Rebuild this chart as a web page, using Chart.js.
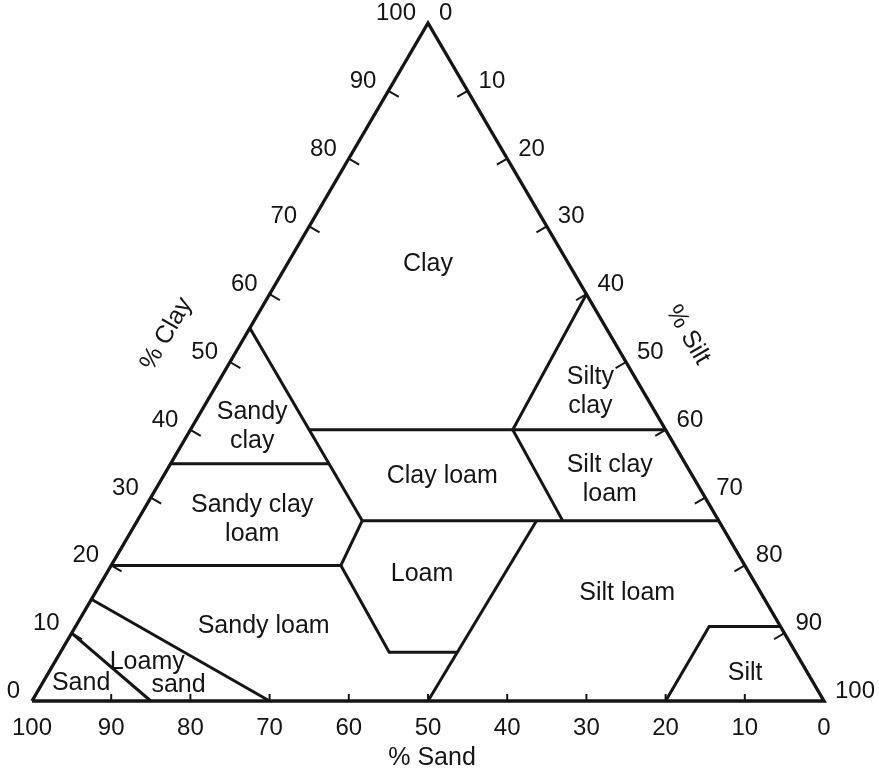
<!DOCTYPE html>
<html>
<head>
<meta charset="utf-8">
<title>Soil texture triangle</title>
<script src="https://cdn.jsdelivr.net/npm/chart.js@4.4.1/dist/chart.umd.min.js"></script>
<style>
  html, body { margin: 0; padding: 0; background: #fff; }
  #wrap { width: 879px; height: 770px; }
</style>
</head>
<body>
<div id="wrap"><canvas id="soil" width="879" height="770"></canvas></div>
<script>
// every point is [sand %, clay %]; silt is what is left
const outline = [[100, 0], [0, 0], [0, 100], [100, 0]];
const sandLine = [[90, 10], [85, 0]];
const loamySandLine = [[85, 15], [70, 0]];
const sandyLoamLine = [[80, 20], [51, 20], [51.3, 7.2], [42.7, 7.2]];
const loamLeftLine = [[51, 20], [45, 26.6]];
const clayLoamBase = [[45, 26.6], [0, 26.6]];
const sand45Line = [[45, 55], [45, 26.6]];
const sandyClayBase = [[65, 35], [45, 35]];
const clayLoamTop = [[45, 40], [0, 40]];
const siltyClayLine = [[0, 60], [19.3, 40], [19.7, 26.6]];
const siltLoamLine = [[50, 0], [23, 26.6]];
const siltLine = [[20, 0], [9, 11], [0, 11]];

const tickValues = [10, 20, 30, 40, 50, 60, 70, 80, 90];
const tickLabels = [0, 10, 20, 30, 40, 50, 60, 70, 80, 90, 100];

const regionNames = [
  ['Clay'], ['Sandy', 'clay'], ['Sandy clay', 'loam'], ['Clay loam'],
  ['Silty', 'clay'], ['Silt clay', 'loam'], ['Loam'], ['Silt loam'],
  ['Sandy loam'], ['Loamy'], ['sand'], ['Sand'], ['Silt']
];
const regionSand = [17.8, 52.0, 58.8, 31.6, 6.7, 10.7, 41.4, 16.9, 65.2, 82.6, 80.3, 92.5, 7.9];
const regionClay = [64.4, 40.4, 26.8, 33.2, 45.6, 32.7, 18.7, 15.9, 11.1, 5.7, 2.4, 2.6, 4.1];

const ink = '#151515';
const font = '"Liberation Sans", Arial, Helvetica, sans-serif';

// sand at the left corner, silt at the right corner, clay at the top
function toXY(sand, clay) {
  return { x: 100 - sand - clay / 2, y: clay };
}

function lineSet(points, width) {
  return {
    data: points.map(p => toXY(p[0], p[1])),
    showLine: true,
    borderColor: ink,
    borderWidth: width,
    pointRadius: 0,
    fill: false,
    clip: false,
    borderJoinStyle: 'miter'
  };
}

const textPlugin = {
  id: 'soilText',
  afterDatasetsDraw(chart) {
    const ctx = chart.ctx;
    const xs = chart.scales.x;
    const ys = chart.scales.y;
    const pt = (sand, clay) => {
      const p = toXY(sand, clay);
      return [xs.getPixelForValue(p.x), ys.getPixelForValue(p.y)];
    };
    const seg = (x1, y1, x2, y2) => {
      ctx.beginPath();
      ctx.moveTo(x1, y1);
      ctx.lineTo(x2, y2);
      ctx.stroke();
    };

    // unit vectors of the two sloping sides
    const a = pt(100, 0), b = pt(0, 0), c = pt(0, 100);
    let len = Math.hypot(c[0] - a[0], c[1] - a[1]);
    const leftDir = [(c[0] - a[0]) / len, (c[1] - a[1]) / len];
    len = Math.hypot(b[0] - c[0], b[1] - c[1]);
    const rightDir = [(b[0] - c[0]) / len, (b[1] - c[1]) / len];
    const leftIn = [-leftDir[1], leftDir[0]];
    const rightIn = [-rightDir[1], rightDir[0]];

    ctx.save();
    ctx.strokeStyle = ink;
    ctx.fillStyle = ink;
    ctx.lineWidth = 2;

    tickValues.forEach(v => {
      let [x, y] = pt(v, 0);
      seg(x, y, x, y - 7);
      [x, y] = pt(100 - v, v);
      seg(x, y, x + leftIn[0] * 12, y + leftIn[1] * 12);
      [x, y] = pt(0, 100 - v);
      seg(x, y, x + rightIn[0] * 12, y + rightIn[1] * 12);
    });

    ctx.font = '24px ' + font;
    ctx.textBaseline = 'alphabetic';
    tickLabels.forEach(v => {
      let [x, y] = pt(v, 0);
      ctx.textAlign = 'center';
      ctx.fillText(String(v), x, y + 34);
      [x, y] = pt(100 - v, v);
      ctx.textAlign = 'right';
      ctx.fillText(String(v), x - 12, y - 3);
      [x, y] = pt(0, 100 - v);
      ctx.textAlign = 'left';
      ctx.fillText(String(v), x + 11, y - 3);
    });

    // axis titles
    ctx.font = '25px ' + font;
    ctx.textAlign = 'center';
    ctx.textBaseline = 'middle';
    let [x, y] = pt(50, 0);
    ctx.fillText('% Sand', x + 4, y + 57);

    [x, y] = pt(51, 49);
    ctx.save();
    ctx.translate(x - leftIn[0] * 69, y - leftIn[1] * 69);
    ctx.rotate(Math.atan2(leftDir[1], leftDir[0]));
    ctx.fillText('% Clay', 0, 0);
    ctx.restore();

    [x, y] = pt(0, 49);
    ctx.save();
    ctx.translate(x - rightIn[0] * 67, y - rightIn[1] * 67);
    ctx.rotate(Math.atan2(rightDir[1], rightDir[0]));
    ctx.fillText('% Silt', 0, 0);
    ctx.restore();

    // texture class names
    regionNames.forEach((lines, i) => {
      const [cx, cy] = pt(regionSand[i], regionClay[i]);
      const top = cy - (lines.length - 1) * 29 / 2;
      lines.forEach((t, j) => ctx.fillText(t, cx, top + j * 29));
    });
    ctx.restore();
  }
};

const boundaries = [
  sandLine, loamySandLine, sandyLoamLine, loamLeftLine, clayLoamBase,
  sand45Line, sandyClayBase, clayLoamTop, siltyClayLine, siltLoamLine, siltLine
];

new Chart(document.getElementById('soil'), {
  type: 'scatter',
  data: {
    datasets: [lineSet(outline, 3.4)].concat(boundaries.map(l => lineSet(l, 3)))
  },
  options: {
    responsive: false,
    animation: false,
    layout: { padding: { left: 32, right: 55, top: 23, bottom: 69 } },
    plugins: { legend: { display: false }, tooltip: { enabled: false } },
    scales: {
      x: { type: 'linear', min: 0, max: 100, display: false },
      y: { type: 'linear', min: 0, max: 100, display: false }
    }
  },
  plugins: [textPlugin]
});
</script>
</body>
</html>
